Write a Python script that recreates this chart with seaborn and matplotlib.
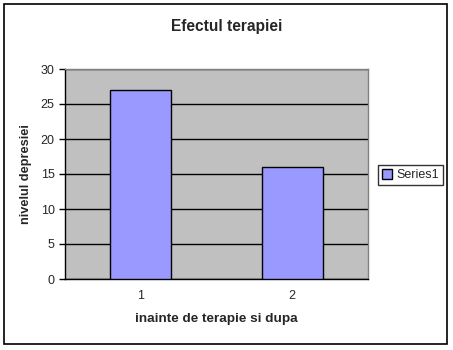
import matplotlib
matplotlib.use("Agg")
import matplotlib.pyplot as plt
import seaborn as sns
import pandas as pd
from matplotlib.patches import Rectangle, Patch

categories = ["1", "2"]
values = [27, 16]
series_name = "Series1"
y_ticks = [0, 5, 10, 15, 20, 25, 30]

sns.set_style("white")
plt.rcParams['font.family'] = ['Liberation Sans', 'DejaVu Sans']

df = pd.DataFrame({"cat": categories, "val": values})

fig = plt.figure(figsize=(4.53, 3.5), dpi=100)
fig.patches.append(Rectangle((4/453, 6/350), 443/453, 340/350, transform=fig.transFigure,
                             fill=False, edgecolor='black', linewidth=1.2))
ax = fig.add_axes([65/453, 71/350, 303/453, 210/350])
ax.set_facecolor('#C0C0C0')
sns.barplot(data=df, x="cat", y="val", color='#9999FF', edgecolor='black',
            linewidth=1.0, width=0.4, saturation=1, ax=ax, zorder=3)
ax.set_ylim(0, 30)
ax.set_xlim(-0.5, 1.5)
ax.set_yticks(y_ticks)
ax.set_yticklabels([str(t) for t in y_ticks], fontsize=9)
ax.set_xticks([-0.5, 0.5, 1.5], minor=False)
ax.set_xticklabels([])
ax.set_xticks([0, 1], minor=True)
ax.set_xticklabels(categories, minor=True, fontsize=9)
ax.tick_params(axis='x', which='major', length=4, width=1, color='black', direction='out')
ax.tick_params(axis='x', which='minor', length=0, pad=8)
ax.tick_params(axis='y', length=4, width=1, color='black', direction='out', left=True)
ax.yaxis.grid(True, color='black', linewidth=1.0, zorder=0)
ax.set_axisbelow(True)
for s in ['left', 'bottom']:
    ax.spines[s].set_color('black')
    ax.spines[s].set_linewidth(1.0)
for s in ['top', 'right']:
    ax.spines[s].set_color('#808080')
    ax.spines[s].set_linewidth(1.0)
ax.set_xlabel("inainte de terapie si dupa", fontsize=9.7, fontweight='bold', labelpad=8)
ax.set_ylabel("nivelul depresiei", fontsize=9.2, fontweight='bold', labelpad=6)
fig.text(0.5, 1 - 27/350, "Efectul terapiei", ha='center', va='center',
         fontsize=11.2, fontweight='bold')
handle = Patch(facecolor='#9999FF', edgecolor='black', linewidth=1.0)
leg = fig.legend([handle], [series_name], loc='center left',
                 bbox_to_anchor=(378/453, 1 - 175/350), frameon=True, fancybox=False,
                 fontsize=9, handlelength=0.8, handleheight=0.8, handletextpad=0.3,
                 borderpad=0.35, borderaxespad=0)
leg.get_frame().set_edgecolor('black')
leg.get_frame().set_linewidth(1.0)
fig.savefig("out.png", dpi=100)
